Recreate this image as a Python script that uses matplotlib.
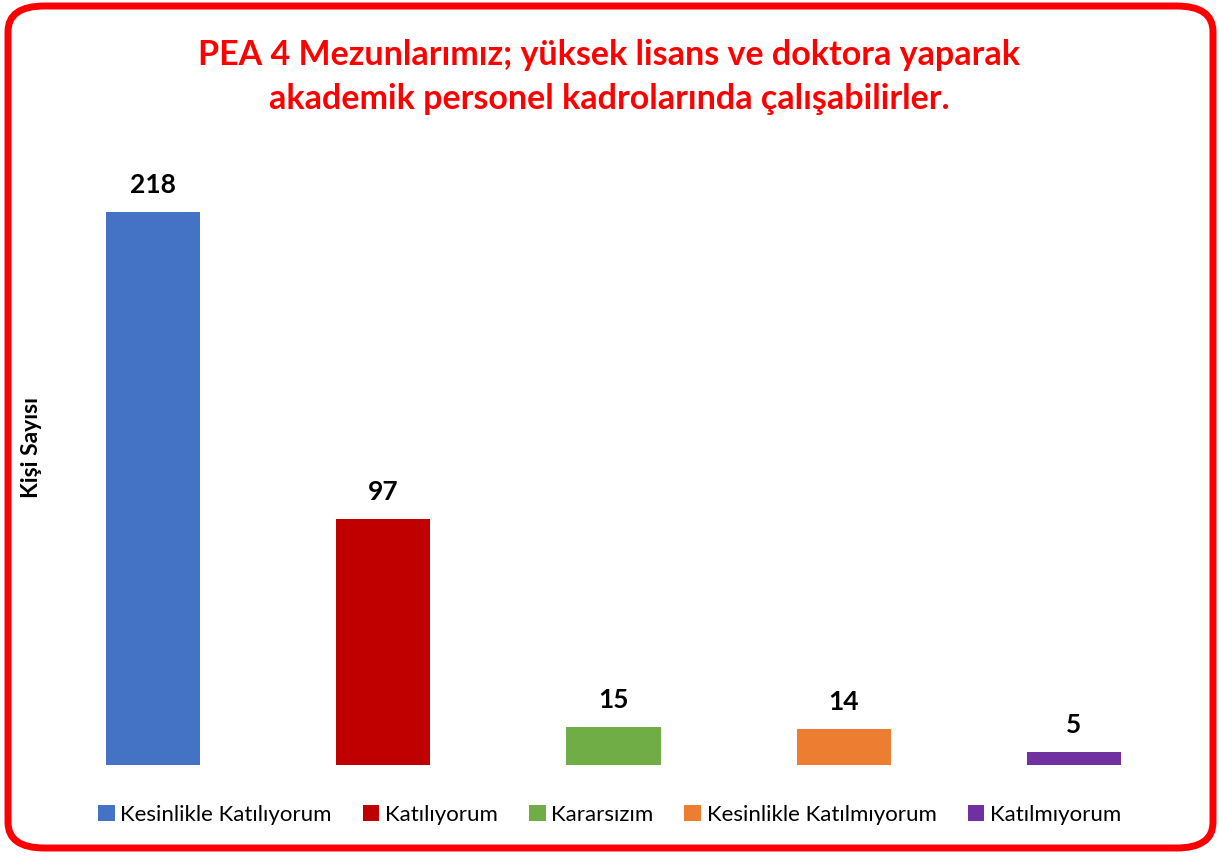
import matplotlib.pyplot as plt
from matplotlib.patches import FancyBboxPatch, Patch

categories = ['Kesinlikle Katılıyorum', 'Katılıyorum', 'Kararsızım',
              'Kesinlikle Katılmıyorum', 'Katılmıyorum']
counts = [218, 97, 15, 14, 5]
colors = ['#4472C4', '#C00000', '#70AD47', '#ED7D31', '#7030A0']

plt.rcParams['font.family'] = ['Lato', 'DejaVu Sans']

fig = plt.figure(figsize=(12.19, 8.56), dpi=100)
W, H = 1219, 856

# plot area in pixel terms
left, right = 38, 1189
bottom, top = 765, 156
ax = fig.add_axes([left / W, 1 - bottom / H, (right - left) / W, (bottom - top) / H])

x = range(len(categories))
ax.bar(x, counts, width=0.41, color=colors)
for i, v in enumerate(counts):
    ax.text(i, v + 6, str(v), ha='center', va='bottom', fontsize=19, fontweight='bold')

ax.set_xlim(-0.5, 4.5)
ax.set_ylim(0, 240)
ax.set_xticks([])
ax.set_yticks([])
for s in ax.spines.values():
    s.set_visible(False)

fig.text(31 / W, 1 - 448 / H, 'Kişi Sayısı', rotation=90, ha='center', va='center',
         fontsize=16.5, fontweight='bold')

fig.text(0.5, 1 - 77 / H, 'PEA 4 Mezunlarımız; yüksek lisans ve doktora yaparak\n'
         'akademik personel kadrolarında çalışabilirler.',
         ha='center', va='center', color='#FF0000', fontsize=24.5, fontweight='bold',
         linespacing=1.45)

handles = [Patch(facecolor=c, label=l) for c, l in zip(colors, categories)]
fig.legend(handles=handles, loc='center', bbox_to_anchor=(0.5, 1 - 815 / H), ncol=5,
           frameon=False, fontsize=16, handlelength=0.75, handleheight=0.75,
           handletextpad=0.25, columnspacing=1.4)

border = FancyBboxPatch((8 / W, 8 / H), 1 - 14 / W, 1 - 14 / H,
                        boxstyle='round,pad=0,rounding_size=0.03',
                        transform=fig.transFigure, fill=False,
                        edgecolor='#FF0000', linewidth=5, zorder=10)
fig.patches.append(border)

fig.savefig('out.png', dpi=100)
